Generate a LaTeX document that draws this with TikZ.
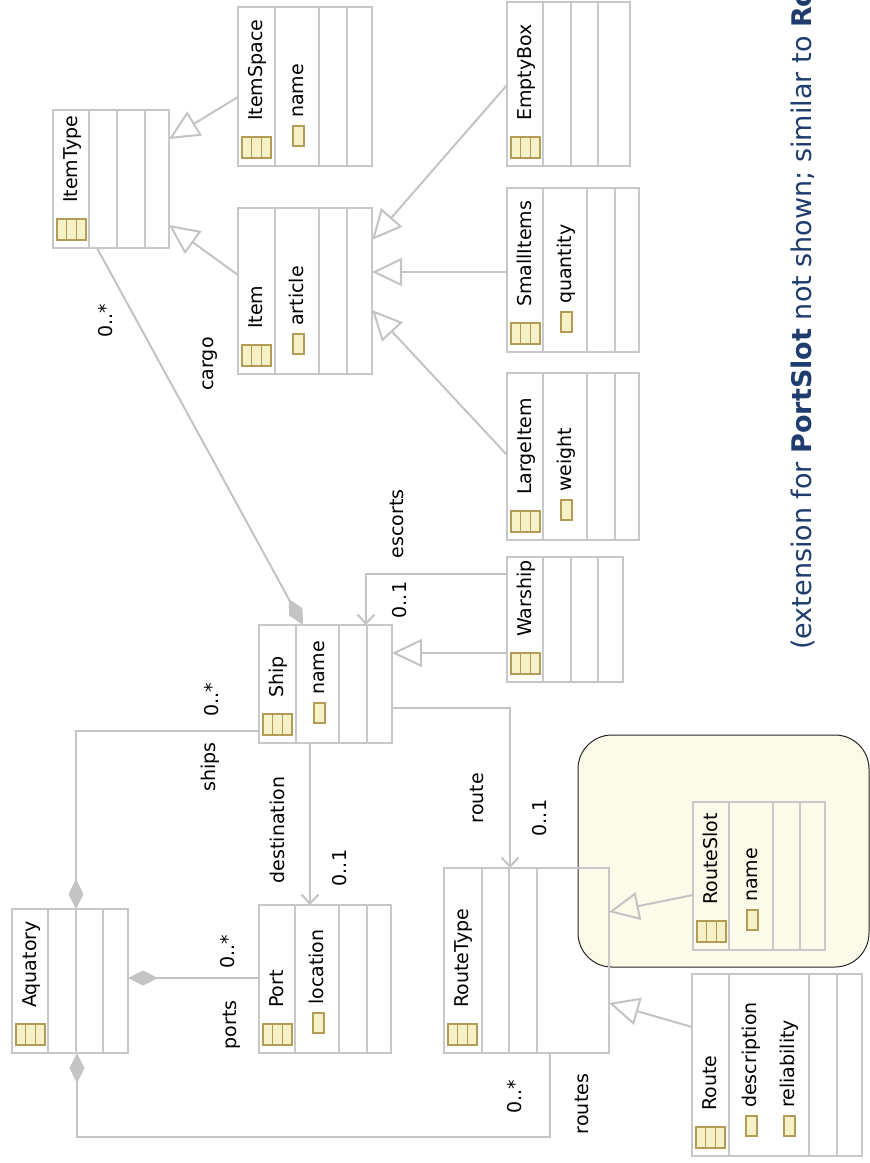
\documentclass[tikz,border=0pt]{standalone}
\usepackage{fontspec}
\setmainfont{DejaVu Sans}
\usetikzlibrary{arrows.meta}
\definecolor{lgray}{HTML}{C4C4C4}
\definecolor{bgray}{HTML}{C8C8C8}
\definecolor{iconfill}{HTML}{F7F1C8}
\definecolor{icondraw}{HTML}{B39C55}
\definecolor{noteyellow}{HTML}{FCFAE8}
\definecolor{sideblue}{HTML}{1E3C6E}
\tikzset{
 clsbox/.style={draw=bgray, line width=1.3pt, fill=white, inner sep=0pt, outer sep=0pt},
 divl/.style={draw=bgray, line width=1.3pt},
 icon/.style={draw=icondraw, fill=iconfill, line width=1.1pt},
 ttl/.style={rotate=90, anchor=base west, inner sep=0pt, font=\fontsize{19}{21}\selectfont},
 lbl/.style={rotate=90, inner sep=0pt, font=\fontsize{19}{21}\selectfont},
 conn/.style={draw=lgray, line width=2pt},
 gen/.style={conn, -{Triangle[length=30pt,width=28pt,fill=white,line width=2pt]}},
 gennote/.style={conn, -{Triangle[length=30pt,width=28pt,fill=noteyellow,line width=2pt]}},
 nav/.style={conn, -{Straight Barb[length=9pt,width=17pt,line width=2pt]}},
 comp/.style={conn, -{Diamond[length=30pt,width=15pt,fill=lgray,line width=1pt]}},
}
% name x0 y0 x1 y1 d1 d2 d3 title
\newcommand\ucls[9]{%
 \node[clsbox, anchor=north west, minimum width={(#4-#2)*1pt}, minimum height={(#5-#3)*1pt}] (#1) at (#2,#3) {};
 \draw[divl] (#6,#3) -- (#6,#5) (#7,#3) -- (#7,#5) (#8,#3) -- (#8,#5);
 \draw[icon] (#2+4,#5-29) rectangle (#2+33,#5-8);
 \draw[icondraw, line width=1.1pt] (#2+13.7,#5-29) -- (#2+13.7,#5-8) (#2+23.3,#5-29) -- (#2+23.3,#5-8);
 \node[ttl] at (#2+24,#5-45) {#9};
}
\newcommand\uattr[3]{%
 \draw[icon] (#1-10,#2-40) rectangle (#1+1,#2-20);
 \node[ttl] at (#1,#2-48) {#3};
}
\begin{document}
\begin{tikzpicture}[x=1pt,y=-1pt]
\useasboundingbox (0,0) rectangle (870,1163);
\fill[white] (0,0) rectangle (870,1163);
\clip (0,0) rectangle (870,1163);
% note area
\draw[draw=black!85, line width=1pt, fill=noteyellow, rounded corners=34pt] (578,735) rectangle (869,967);
% classes
\ucls{itemtype}{53}{110}{169}{248}{89}{117}{145}{ItemType}
\ucls{itemspace}{238}{7}{372}{166}{275}{319}{347}{ItemSpace}
\uattr{303}{166}{name}
\ucls{item}{238}{208}{372}{374}{275}{319}{347}{Item}
\uattr{303}{374}{article}
\ucls{emptybox}{507}{2}{630}{166}{543}{571}{598}{EmptyBox}
\ucls{smallitems}{507}{188}{639}{352}{543}{587}{615}{SmallItems}
\uattr{571}{352}{quantity}
\ucls{largeitem}{507}{373}{639}{540}{543}{587}{615}{LargeItem}
\uattr{571}{540}{weight}
\ucls{warship}{507}{557}{623}{682}{543}{571}{598}{Warship}
\ucls{ship}{259}{625}{392}{743}{296}{339}{367}{Ship}
\uattr{324}{743}{name}
\ucls{aquatory}{12}{909}{128}{1053}{48}{76}{103}{Aquatory}
\ucls{port}{259}{905}{391}{1053}{295}{339}{367}{Port}
\uattr{323}{1053}{location}
\begin{scope}[clsbox/.append style={fill=none}]
\ucls{routetype}{444}{868}{609}{1053}{482}{509}{537}{RouteType}
\ucls{routeslot}{693}{802}{825}{950}{729}{773}{800}{RouteSlot}
\end{scope}
\uattr{757}{950}{name}
\ucls{route}{692}{974}{862}{1156}{729}{809}{837}{Route}
\uattr{756}{1156}{description}
\uattr{794}{1156}{reliability}
% generalizations
\draw[gen] (itemspace.west |- 0,97) -- (itemtype.east |- 0,139);
\draw[gen] (item.west |- 0,275) -- (itemtype.east |- 0,225);
\draw[gen] (emptybox.west |- 0,85) -- (item.east |- 0,240);
\draw[gen] (smallitems.west |- 0,272) -- (item.east |- 0,272);
\draw[gen] (largeitem.west |- 0,455) -- (item.east |- 0,310);
\draw[gen] (warship.west |- 0,653) -- (ship.east |- 0,653);
\draw[gennote] (routeslot.west |- 0,895) -- (routetype.east |- 0,912);
\draw[gen] (route.west |- 0,1027) -- (routetype.east |- 0,1003);
% associations
\draw[comp] (itemtype.south -| 97,0) -- (ship.north -| 303,0);
\draw[comp] (ship.west |- 0,731) -| (aquatory.north -| 76,0);
\draw[comp] (port.west |- 0,978) -- (aquatory.east |- 0,978);
\coordinate (rcorner) at (550,1137);
\draw[comp] (routetype.south -| 550,0) -- (rcorner) -| (aquatory.south -| 77,0);
\draw[nav] (ship.south -| 310,0) -- (port.north -| 310,0);
\draw[nav] (ship.east |- 0,708) -| (routetype.north -| 510,0);
\draw[nav] (warship.west |- 0,574) -| (ship.north -| 366,0);
% labels
\node[lbl] at (106,321) {0..*};
\node[lbl] at (210,364) {cargo};
\node[lbl] at (397,524) {escorts};
\node[lbl] at (400,600) {0..1};
\node[lbl] at (212,700) {0..*};
\node[lbl] at (210,767) {ships};
\node[lbl] at (277,830) {destination};
\node[lbl] at (340,868) {0..1};
\node[lbl] at (477,798) {route};
\node[lbl] at (540,818) {0..1};
\node[lbl] at (228,952) {0..*};
\node[lbl] at (232,1025) {ports};
\node[lbl] at (515,1097) {0..*};
\node[lbl] at (582,1104) {routes};
% side note
\node[rotate=90, anchor=base west, inner sep=0pt, text=sideblue, font=\fontsize{27}{30}\selectfont] (sidenote) at (811,650) {(extension for \textbf{PortSlot} not shown; similar to \textbf{Ro}};
\end{tikzpicture}
\end{document}
